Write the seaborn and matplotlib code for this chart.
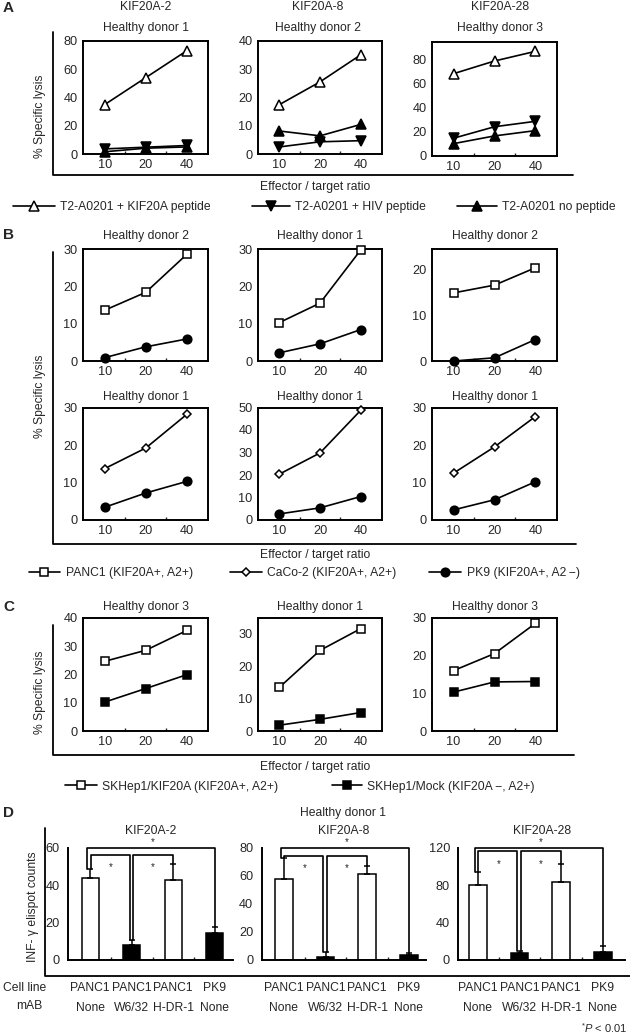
import numpy as np
import matplotlib
matplotlib.use("Agg")
import matplotlib.pyplot as plt
from matplotlib.lines import Line2D
import seaborn as sns

# ---- data ----
ratios = ["10", "20", "40"]

# A: T2-A0201 targets
a_peptides = ["KIF20A-2", "KIF20A-8", "KIF20A-28"]
a_donors = ["Healthy donor 1", "Healthy donor 2", "Healthy donor 3"]
a_kif20a = [[35, 54, 73], [17.5, 25.5, 35], [68, 78.5, 86.5]]
a_hiv = [[3.8, 5.0, 6.2], [2.6, 4.4, 4.8], [14.5, 24, 28.5]]
a_nopep = [[1.8, 4.3, 5.2], [8.2, 6.5, 10.5], [10, 16.4, 20.8]]
a_ymax = [80, 40, 94]
a_yticks = [[0, 20, 40, 60, 80], [0, 10, 20, 30, 40], [0, 20, 40, 60, 80]]

# B: pancreatic cancer lines
b_donors_top = ["Healthy donor 2", "Healthy donor 1", "Healthy donor 2"]
b_panc1 = [[13.6, 18.4, 28.6], [10.3, 15.5, 29.7], [14.9, 16.6, 20.4]]
b_pk9_top = [[0.9, 3.8, 5.9], [2.2, 4.6, 8.4], [0.0, 0.7, 4.7]]
b_ymax_top = [30, 30, 24.5]
b_yticks_top = [[0, 10, 20, 30], [0, 10, 20, 30], [0, 10, 20]]
b_donors_bot = ["Healthy donor 1", "Healthy donor 1", "Healthy donor 1"]
b_caco2 = [[13.7, 19.2, 28.2], [20.4, 29.8, 48.7], [12.5, 19.5, 27.6]]
b_pk9_bot = [[3.4, 7.2, 10.3], [2.7, 5.4, 10.4], [2.7, 5.4, 10.2]]
b_ymax_bot = [30, 50, 30]
b_yticks_bot = [[0, 10, 20, 30], [0, 10, 20, 30, 40, 50], [0, 10, 20, 30]]

# C: SKHep1 transfectants
c_donors = ["Healthy donor 3", "Healthy donor 1", "Healthy donor 3"]
c_kif20a = [[24.6, 28.5, 35.5], [13.5, 24.9, 31.6], [16.0, 20.5, 28.5]]
c_mock = [[10.2, 15.0, 19.9], [1.8, 3.6, 5.7], [10.3, 13.0, 13.1]]
c_ymax = [40, 35, 30]
c_yticks = [[0, 10, 20, 30, 40], [0, 10, 20, 30], [0, 10, 20, 30]]

# D: ELISPOT with blocking antibodies
d_peptides = ["KIF20A-2", "KIF20A-8", "KIF20A-28"]
d_cells = ["PANC1\nNone", "PANC1\nW6/32", "PANC1\nH-DR-1", "PK9\nNone"]
d_colors = ["white", "black", "white", "black"]
d_counts = [[44, 8, 43, 14.3], [58, 2.2, 61.5, 3.5], [80, 7.5, 84, 8.3]]
d_err = [[5, 2.8, 8.5, 3.6], [15, 3.5, 6, 1.6], [14, 2, 19, 6.5]]
d_ymax = [60, 80, 120]
d_yticks = [[0, 20, 40, 60], [0, 20, 40, 60, 80], [0, 40, 80, 120]]
d_inner = [56.4, 74.5, 116.5]

# ---- style ----
sns.set_style("white")
plt.rcParams["font.family"] = ["Liberation Sans", "DejaVu Sans"]
plt.rcParams["mathtext.fontset"] = "custom"
plt.rcParams["mathtext.rm"] = "Liberation Sans"
plt.rcParams["mathtext.it"] = "Liberation Sans:italic"
FS = 8.7
TFS = 9.2
W, H = 630, 1036
SPW = 1.4
LW = 1.2

fig = plt.figure(figsize=(W / 100, H / 100), dpi=100)


def fx(x):
    return x / W


def fy(y):
    return 1 - y / H


def px_axes(l, t, r, b):
    return fig.add_axes([fx(l), fy(b), (r - l) / W, (b - t) / H])


def ftext(x, y, s, **kw):
    kw.setdefault("fontsize", FS)
    kw.setdefault("ha", "center")
    kw.setdefault("va", "center")
    fig.text(fx(x), fy(y), s, **kw)


def frame(x, ytop, ybot, xend):
    fig.add_artist(Line2D([fx(x), fx(x), fx(xend)], [fy(ytop), fy(ybot), fy(ybot)],
                          transform=fig.transFigure, color="black", lw=1.3))


open_tri = dict(marker="^", markersize=7.5, markerfacecolor="white")
down_tri = dict(marker="v", markersize=7.5, markerfacecolor="black")
up_tri = dict(marker="^", markersize=7.5, markerfacecolor="black")
open_sq = dict(marker="s", markersize=5.5, markerfacecolor="white")
fill_sq = dict(marker="s", markersize=5.5, markerfacecolor="black")
fill_ci = dict(marker="o", markersize=6.2, markerfacecolor="black")
open_di = dict(marker="D", markersize=4.5, markerfacecolor="white")

cols = [(83.3, 208.3), (258.3, 381.7), (432.3, 556.7)]


def lysis_axes(l, t, r, b, ymax, yticks):
    ax = px_axes(l, t, r, b)
    ax.set_xlim(-0.52, 2.52)
    ax.set_ylim(0, ymax)
    ax.set_xticks([0, 1, 2])
    ax.set_xticklabels(ratios)
    ax.set_xticks([0.5, 1.5], minor=True)
    ax.set_yticks(yticks)
    ax.tick_params(axis="both", which="major", length=0, labelsize=TFS)
    ax.tick_params(axis="x", which="major", pad=3.5)
    ax.tick_params(axis="y", which="major", pad=4)
    ax.tick_params(axis="x", which="minor", direction="in", length=2.5, width=1, bottom=True)
    for sp in ax.spines.values():
        sp.set_visible(True)
        sp.set_linewidth(SPW)
        sp.set_color("black")
    return ax


def series(ax, vals, style):
    sns.lineplot(x=[0, 1, 2], y=vals, ax=ax, color="black", linewidth=LW,
                 markeredgecolor="black", markeredgewidth=1.1, clip_on=False,
                 legend=False, zorder=3, **style)
    ax.set_xlabel("")
    ax.set_ylabel("")


def legend_entry(style, label, x, y, length_px):
    h = Line2D([], [], color="black", lw=LW, markeredgecolor="black",
               markeredgewidth=1.1, **style)
    fig.legend([h], [label], loc="center left", bbox_to_anchor=(fx(x), fy(y)),
               frameon=False, fontsize=FS, handlelength=length_px / 12.1,
               handletextpad=0.45, borderpad=0, borderaxespad=0, numpoints=1)


# ---- panel A ----
ftext(3, 7.5, "A", ha="left", fontsize=11, fontweight="bold")
for i, (l, r) in enumerate(cols):
    t, b = (40.7, 154.3) if i < 2 else (42.3, 155.7)
    ax = lysis_axes(l, t, r, b, a_ymax[i], a_yticks[i])
    series(ax, a_nopep[i], up_tri)
    series(ax, a_hiv[i], down_tri)
    series(ax, a_kif20a[i], open_tri)
    cx = [145.7, 318, 500][i]
    ftext(cx, 6.7, a_peptides[i])
    ftext(cx, 28, a_donors[i])
frame(53.3, 31.7, 175, 573.3)
ftext(40, 116, "% Specific lysis", rotation=90)
ftext(315, 187, "Effector / target ratio")
legend_entry(open_tri, "T2-A0201 + KIF20A peptide", 13, 207, 42)
legend_entry(down_tri, "T2-A0201 + HIV peptide", 252, 207, 38)
legend_entry(up_tri, "T2-A0201 no peptide", 456.7, 207, 40)

# ---- panel B ----
ftext(3, 235, "B", ha="left", fontsize=11, fontweight="bold")
for i, (l, r) in enumerate(cols):
    ax = lysis_axes(l, 249, r, 361, b_ymax_top[i], b_yticks_top[i])
    series(ax, b_pk9_top[i], fill_ci)
    series(ax, b_panc1[i], open_sq)
    ftext((l + r) / 2, 236.5, b_donors_top[i])
    ax = lysis_axes(l, 407.5, r, 520, b_ymax_bot[i], b_yticks_bot[i])
    series(ax, b_pk9_bot[i], fill_ci)
    series(ax, b_caco2[i], open_di)
    ftext((l + r) / 2, 396.7, b_donors_bot[i])
frame(53.3, 252, 544, 575.7)
ftext(40, 396, "% Specific lysis", rotation=90)
ftext(315, 555, "Effector / target ratio")
legend_entry(open_sq, "PANC1 (KIF20A+, A2+)", 28.5, 573.3, 32)
legend_entry(open_di, "CaCo-2 (KIF20A+, A2+)", 229.7, 573.3, 32)
legend_entry(fill_ci, "PK9 (KIF20A+, A2\u2009\u2212)", 429.3, 573.3, 32)

# ---- panel C ----
ftext(3, 607, "C", ha="left", fontsize=11, fontweight="bold")
for i, (l, r) in enumerate(cols):
    ax = lysis_axes(l, 617.7, r, 731, c_ymax[i], c_yticks[i])
    series(ax, c_mock[i], fill_sq)
    series(ax, c_kif20a[i], open_sq)
    ftext((l + r) / 2, 606.7, c_donors[i])
frame(53.3, 625, 755, 574)
ftext(40, 692, "% Specific lysis", rotation=90)
ftext(315, 766.7, "Effector / target ratio")
legend_entry(open_sq, "SKHep1/KIF20A (KIF20A+, A2+)", 65, 786.7, 32)
legend_entry(fill_sq, "SKHep1/Mock (KIF20A\u2009\u2212, A2+)", 332, 786.7, 30)

# ---- panel D ----
ftext(3, 813, "D", ha="left", fontsize=11, fontweight="bold")
ftext(343, 813, "Healthy donor 1")
d_boxes = [(68.3, 233, -0.53, 3.44), (261.7, 426, -0.53, 3.41), (458.3, 625, -0.47, 3.53)]
for i, (l, r, x0, x1) in enumerate(d_boxes):
    ax = px_axes(l, 848, r, 960)
    sns.barplot(x=d_cells, y=d_counts[i], hue=d_cells,
                palette=dict(zip(d_cells, d_colors)), legend=False, ax=ax,
                width=0.42, edgecolor="black", linewidth=1.1, saturation=1)
    ax.errorbar(range(4), d_counts[i], yerr=[np.zeros(4), d_err[i]], fmt="none",
                ecolor="black", elinewidth=1.1, capsize=2, capthick=1.1, zorder=3)
    ax.set_xlim(x0, x1)
    ax.set_ylim(0, d_ymax[i])
    ax.set_yticks(d_yticks[i])
    ax.set_xlabel("")
    ax.set_ylabel("")
    ax.set_xticks(range(4))
    ax.set_xticklabels(d_cells, linespacing=1.9)
    ax.set_xticks([0.5, 1.5, 2.5], minor=True)
    ax.tick_params(axis="both", which="major", length=0, labelsize=FS)
    ax.tick_params(axis="y", which="major", pad=6, labelsize=TFS)
    ax.tick_params(axis="x", which="major", pad=15.5)
    ax.tick_params(axis="x", which="minor", direction="in", length=2, width=1, bottom=True)
    sns.despine(ax=ax)
    for sp in ("left", "bottom"):
        ax.spines[sp].set_linewidth(SPW)
        ax.spines[sp].set_color("black")
    # significance brackets from error-bar tops
    tops = np.array(d_counts[i]) + np.array(d_err[i])
    outer, inner = d_ymax[i], d_inner[i]
    kw = dict(color="black", lw=1.2, clip_on=False, zorder=4)
    ax.plot([-0.07, -0.07, 3, 3], [tops[0], outer, outer, tops[3]], **kw)
    ax.plot([0.01, 0.01, 0.95, 0.95], [tops[0], inner, inner, tops[1]], **kw)
    ax.plot([1.03, 1.03, 2, 2], [tops[1], inner, inner, tops[2]], **kw)
    for xs, dy in ((1.5, 4), (0.5, -9), (1.5, -9)):
        lvl = outer if dy > 0 else inner
        ax.annotate("*", (xs, lvl), xytext=(0, dy), textcoords="offset points",
                    ha="center", va="center", fontsize=7)
    ftext((l + r) / 2, 831, d_peptides[i])
fig.add_artist(Line2D([fx(45), fx(45), fx(630)], [fy(828), fy(976), fy(976)],
                      transform=fig.transFigure, color="black", lw=1.3))
ftext(33, 907, "INF- \u03b3 elispot counts", rotation=90)
ftext(3, 988, "Cell line", ha="left")
ftext(29, 1006, "mAB")
ftext(628, 1028, r"$^{*}P$ < 0.01", ha="right", fontsize=8)

fig.savefig("out.png", dpi=100)
